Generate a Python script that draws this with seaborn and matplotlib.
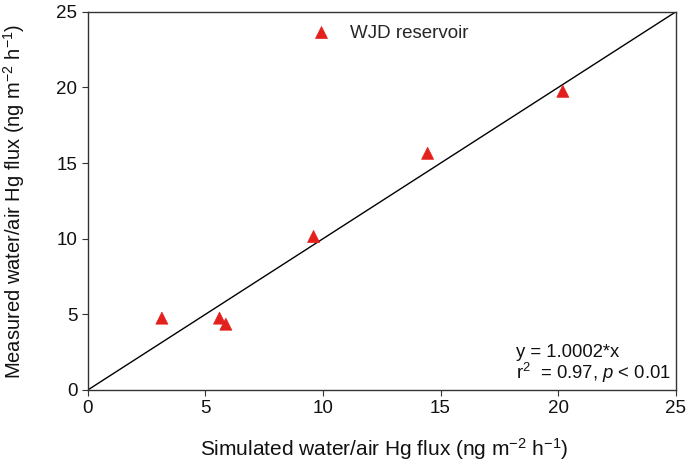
import matplotlib
matplotlib.use("Agg")
import matplotlib.pyplot as plt
import seaborn as sns
import pandas as pd
import numpy as np

simulated = [3.15, 5.6, 5.87, 9.6, 14.45, 20.2]
measured = [4.75, 4.75, 4.35, 10.15, 15.65, 19.75]
series_name = "WJD reservoir"
line_x = [0, 25]
line_y = [0, 25]
ticks = [0, 5, 10, 15, 20, 25]

sns.set_style("ticks")
plt.rcParams['font.family'] = ['Liberation Sans', 'DejaVu Sans']
plt.rcParams['mathtext.fontset'] = 'custom'
plt.rcParams['mathtext.rm'] = 'Liberation Sans'
plt.rcParams['mathtext.it'] = 'Liberation Sans:italic'
plt.rcParams['mathtext.default'] = 'regular'

df = pd.DataFrame({"x": simulated, "y": measured, "series": [series_name] * len(simulated)})

fig = plt.figure(figsize=(6.86, 4.75), dpi=100)
ax = fig.add_axes([0.128, 0.179, 0.857, 0.796])

ax.plot(line_x, line_y, color="black", lw=1.0, zorder=1)
sns.scatterplot(data=df, x="x", y="y", hue="series", palette=["#e3201b"],
                marker="^", s=75, edgecolor="#e3201b", linewidth=0.5, ax=ax, zorder=3)

ax.set_xlim(0, 25)
ax.set_ylim(0, 25)
ax.set_xticks(ticks)
ax.set_yticks(ticks)
ax.tick_params(axis="both", labelsize=13.5, direction="out", length=4, width=0.8,
               color="#333333", labelcolor="#111111")
for s in ax.spines.values():
    s.set_color("#333333")
    s.set_linewidth(1.0)

ax.set_xlabel("Simulated water/air Hg flux (ng m$^{-2}$ h$^{-1}$)", fontsize=15, color="#111111")
ax.set_ylabel("Measured water/air Hg flux (ng m$^{-2}$ h$^{-1}$)", fontsize=14.5, color="#111111")
ax.xaxis.set_label_coords(0.505, -0.122)
ax.yaxis.set_label_coords(-0.103, 0.5)

leg = ax.legend(loc="center left", bbox_to_anchor=(0.336, 0.942), frameon=False,
                fontsize=13.5, handletextpad=0.55, markerscale=1.0)

ax.text(18.2, 2.5, "y = 1.0002*x", fontsize=13.3, ha="left", va="center", color="#111111")
ax.text(18.2, 1.15, "r$^2$  = 0.97, $\\it{p}$ < 0.01", fontsize=13.3, ha="left", va="center", color="#111111")

fig.savefig("out.png", dpi=100)
